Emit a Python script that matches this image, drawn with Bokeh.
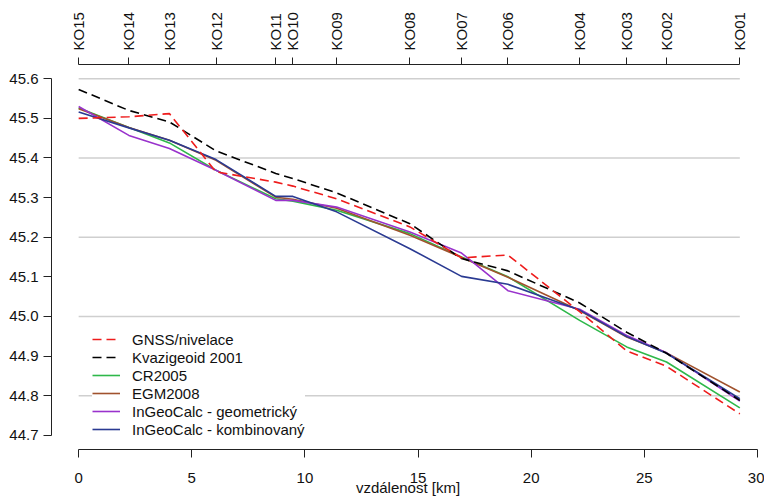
from bokeh.plotting import figure
from bokeh.models import (Range1d, FixedTicker, Legend, LegendItem, LinearAxis,
                          ColumnDataSource, NumeralTickFormatter)
from bokeh.embed import file_html
from bokeh.resources import INLINE

# ---- data ----
stations = ["KO15", "KO14", "KO13", "KO12", "KO11", "KO10", "KO09",
            "KO08", "KO07", "KO06", "KO04", "KO03", "KO02", "KO01"]
dist_km = [0.0, 2.22, 4.01, 6.07, 8.71, 9.47, 11.40,
           14.64, 16.92, 18.97, 22.14, 24.22, 25.98, 29.22]

gnss_nivelace = [45.500, 45.504, 45.512, 45.365, 45.339, 45.329, 45.297,
                 45.226, 45.148, 45.155, 45.012, 44.913, 44.874, 44.754]
kvazigeoid_2001 = [45.573, 45.520, 45.491, 45.418, 45.361, 45.348, 45.312,
                   45.234, 45.146, 45.115, 45.034, 44.960, 44.907, 44.788]
cr2005 = [45.526, 45.477, 45.438, 45.369, 45.297, 45.291, 45.268,
          45.209, 45.150, 45.100, 44.990, 44.923, 44.885, 44.769]
egm2008 = [45.524, 45.477, 45.445, 45.394, 45.301, 45.296, 45.273,
           45.205, 45.149, 45.099, 45.015, 44.948, 44.908, 44.809]
ingeocalc_geom = [45.530, 45.457, 45.424, 45.369, 45.293, 45.293, 45.276,
                  45.213, 45.160, 45.065, 45.018, 44.952, 44.908, 44.786]
ingeocalc_komb = [45.516, 45.476, 45.445, 45.396, 45.303, 45.303, 45.264,
                  45.171, 45.101, 45.081, 45.016, 44.949, 44.907, 44.792]

x_ticks = [0, 5, 10, 15, 20, 25, 30]
y_ticks = [44.7, 44.8, 44.9, 45.0, 45.1, 45.2, 45.3, 45.4, 45.5, 45.6]
grid_levels = [45.6, 45.4, 45.2, 45.0, 44.8]

series = [
    ("GNSS/nivelace", gnss_nivelace, "#EE1C1C", "9 5"),
    ("Kvazigeoid 2001", kvazigeoid_2001, "#000000", "9 5"),
    ("CR2005", cr2005, "#2EB84A", "solid"),
    ("EGM2008", egm2008, "#A0522D", "solid"),
    ("InGeoCalc - geometrický", ingeocalc_geom, "#9932CC", "solid"),
    ("InGeoCalc - kombinovaný", ingeocalc_komb, "#2A3A92", "solid"),
]

FONT = "Liberation Sans"

p = figure(width=764, height=499,
           x_range=Range1d(-1.2, 30.31), y_range=Range1d(44.664, 45.636),
           output_backend="svg", toolbar_location=None,
           x_axis_location=None, y_axis_location=None,
           min_border_left=51, min_border_right=0,
           min_border_top=64, min_border_bottom=50)
p.margin = (0, -8, -8, 0)
p.outline_line_color = None
p.background_fill_color = "white"
p.border_fill_color = "white"
for g in p.grid:
    g.visible = False


def style_axis(ax, tick_out):
    ax.major_tick_out = tick_out
    ax.major_tick_in = 0
    ax.minor_tick_out = 0
    ax.minor_tick_in = 0
    ax.minor_tick_line_color = None
    ax.axis_line_color = "#222222"
    ax.major_tick_line_color = "#222222"
    ax.axis_line_width = 1
    ax.major_label_text_font = FONT
    ax.major_label_text_font_size = "15px"
    ax.major_label_text_color = "#111111"
    ax.axis_label_text_font = FONT
    ax.axis_label_text_font_size = "15px"
    ax.axis_label_text_font_style = "normal"
    ax.axis_label_text_color = "#111111"


xb = LinearAxis(ticker=FixedTicker(ticks=x_ticks), bounds=(x_ticks[0], x_ticks[-1]),
                axis_label="vzdálenost [km]")
style_axis(xb, 8)
xb.major_label_standoff = 15
xb.axis_label_standoff = -7
p.add_layout(xb, "below")

xt = LinearAxis(ticker=FixedTicker(ticks=dist_km), bounds=(dist_km[0], dist_km[-1]),
                major_label_overrides={d: s for d, s in zip(dist_km, stations)},
                major_label_orientation="vertical")
style_axis(xt, 7)
xt.major_label_standoff = 7
p.add_layout(xt, "above")

yl = LinearAxis(ticker=FixedTicker(ticks=y_ticks), bounds=(y_ticks[0], y_ticks[-1]),
                formatter=NumeralTickFormatter(format="0.0"))
style_axis(yl, 8)
yl.major_label_standoff = 5
p.add_layout(yl, "left")

# horizontal reference lines spanning first..last station
p.segment(x0=[dist_km[0]] * len(grid_levels), x1=[dist_km[-1]] * len(grid_levels),
          y0=grid_levels, y1=grid_levels, line_color="#cfcfcf", line_width=1.5)

src = ColumnDataSource(dict(x=dist_km, gnss=gnss_nivelace, kvazi=kvazigeoid_2001,
                            cr=cr2005, egm=egm2008, geom=ingeocalc_geom, komb=ingeocalc_komb))
keys = ["gnss", "kvazi", "cr", "egm", "geom", "komb"]

draw_order = [2, 3, 4, 5, 1, 0]
rmap = {}
for i in draw_order:
    label, vals, col, dash = series[i]
    rmap[i] = p.line("x", keys[i], source=src, line_color=col, line_width=1.6, line_dash=dash)

items = [LegendItem(label=series[i][0], renderers=[rmap[i]]) for i in range(len(series))]
legend = Legend(items=items, location=(41, 11), border_line_color=None,
                background_fill_color="white", background_fill_alpha=1.0,
                padding=10, spacing=0, margin=0,
                glyph_width=28, glyph_height=18, label_height=18, label_standoff=12,
                label_text_font=FONT, label_text_font_size="15px",
                label_text_color="#111111")
p.add_layout(legend)

open("out.html", "w").write(file_html(p, INLINE))
